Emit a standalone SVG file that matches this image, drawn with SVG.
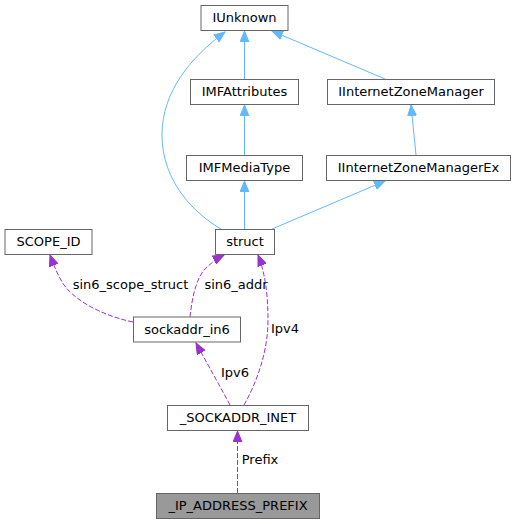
<svg xmlns="http://www.w3.org/2000/svg" width="515" height="524" viewBox="0 0 515 524">
<style>
.box{fill:#fff;stroke:#666;stroke-width:1}
.hl{fill:#999;stroke:#666;stroke-width:1}
text{font-family:"DejaVu Sans",sans-serif;font-size:13px;fill:#000;text-anchor:middle}
.inh{fill:none;stroke:#63b8ff;stroke-width:1}
.use{fill:none;stroke:#9a32cd;stroke-width:1;stroke-dasharray:5,2}
</style>
<defs>
<marker id="ab" markerUnits="userSpaceOnUse" markerWidth="12" markerHeight="10" refX="11" refY="5" orient="auto" viewBox="0 0 12 10">
<polygon points="0,0.5 11,5 0,9.5" fill="#63b8ff" stroke="#63b8ff"/>
</marker>
<marker id="ap" markerUnits="userSpaceOnUse" markerWidth="12" markerHeight="10" refX="11" refY="5" orient="auto" viewBox="0 0 12 10">
<polygon points="0,0.5 11,5 0,9.5" fill="#9a32cd" stroke="#9a32cd"/>
</marker>
</defs>
<g id="edges">
<path class="inh" d="M221,229 C195,214 162,182 162,135 C162,92 190,58 225,32" marker-end="url(#ab)"/>
<path class="inh" d="M244.5,79 L244.5,31" marker-end="url(#ab)"/>
<path class="inh" d="M385,79 L272,31" marker-end="url(#ab)"/>
<path class="inh" d="M244.5,155 L244.5,105" marker-end="url(#ab)"/>
<path class="inh" d="M416,155 L411,105" marker-end="url(#ab)"/>
<path class="inh" d="M244.5,229 L244.5,181" marker-end="url(#ab)"/>
<path class="inh" d="M272,229 L385,181" marker-end="url(#ab)"/>
<path class="use" d="M133,322 C100,315 75,300 64,285 C58,276 54,266 50,255" marker-end="url(#ap)"/>
<path class="use" d="M190,317 C192,298 196,280 204,270 C210,264 216,259 224,255" marker-end="url(#ap)"/>
<path class="use" d="M244,405 C258,380 268,350 268,320 C268,295 265,272 258,255" marker-end="url(#ap)"/>
<path class="use" d="M230,405 C222,390 208,365 196,343" marker-end="url(#ap)"/>
<path class="use" d="M237.5,493 L237.5,431" marker-end="url(#ap)"/>
<text x="130.5" y="288.5">sin6_scope_struct</text>
<text x="236" y="288.5">sin6_addr</text>
<text x="285" y="333">Ipv4</text>
<text x="235" y="377">Ipv6</text>
<text x="260" y="464">Prefix</text>
</g>
<g id="IUnknown"><rect class="box" x="201" y="5.5" width="87" height="25"/><text x="244.5" y="22">IUnknown</text></g>
<g id="IMFAttributes"><rect class="box" x="190.5" y="79.5" width="108" height="25"/><text x="244.5" y="96">IMFAttributes</text></g>
<g id="IInternetZoneManager"><rect class="box" x="327.5" y="79.5" width="167" height="25"/><text x="411" y="96">IInternetZoneManager</text></g>
<g id="IMFMediaType"><rect class="box" x="186.5" y="155.5" width="116" height="25"/><text x="244.5" y="172">IMFMediaType</text></g>
<g id="IInternetZoneManagerEx"><rect class="box" x="326.5" y="155.5" width="184" height="25"/><text x="418.5" y="172">IInternetZoneManagerEx</text></g>
<g id="struct"><rect class="box" x="215.5" y="229.5" width="59" height="25"/><text x="245" y="246">struct</text></g>
<g id="SCOPE_ID"><rect class="box" x="5" y="229.5" width="87" height="25"/><text x="48.5" y="246">SCOPE_ID</text></g>
<g id="sockaddr_in6"><rect class="box" x="133.5" y="317" width="107" height="25"/><text x="187" y="333.5">sockaddr_in6</text></g>
<g id="SOCKADDR_INET"><rect class="box" x="167.5" y="405.5" width="141" height="25"/><text x="238" y="422">_SOCKADDR_INET</text></g>
<g id="IP_ADDRESS_PREFIX"><rect class="hl" x="156.5" y="493.5" width="163" height="25"/><text x="238" y="510">_IP_ADDRESS_PREFIX</text></g>
</svg>
